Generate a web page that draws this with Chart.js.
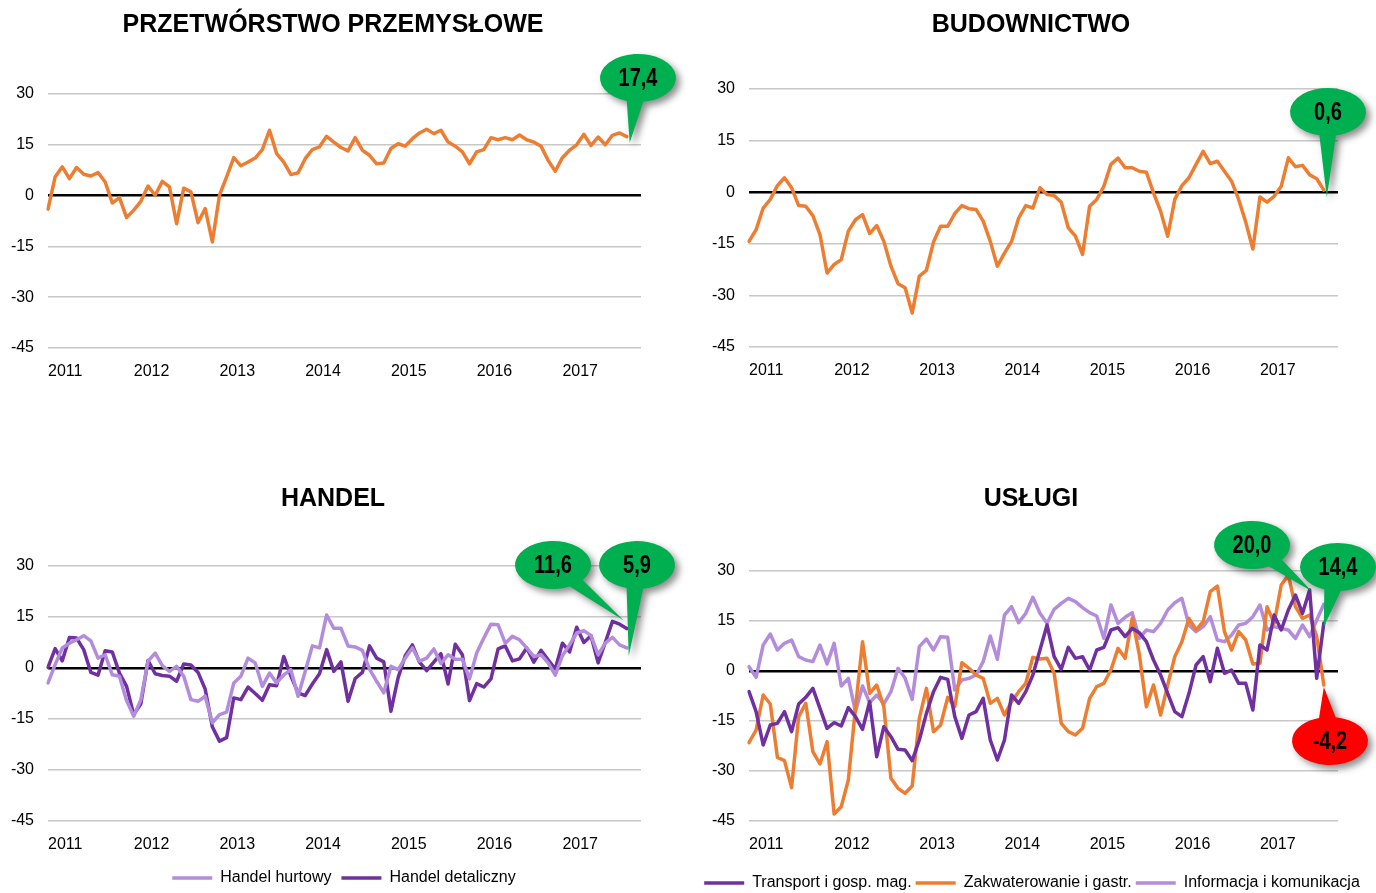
<!DOCTYPE html>
<html>
<head>
<meta charset="utf-8">
<title>Koniunktura</title>
<script src="https://cdn.jsdelivr.net/npm/chart.js@4.4.0/dist/chart.umd.min.js"></script>
<style>
  html, body { margin: 0; padding: 0; background: #fff; overflow: hidden; }
  #wrap { position: relative; width: 1376px; height: 893px; overflow: hidden; }
  canvas { position: absolute; }
</style>
</head>
<body>
<div id="wrap">
  <canvas id="c1" width="688" height="400" style="left:0;top:0"></canvas>
  <canvas id="c2" width="688" height="400" style="left:688px;top:0"></canvas>
  <canvas id="c3" width="688" height="426" style="left:0;top:470px"></canvas>
  <canvas id="c4" width="688" height="431" style="left:688px;top:470px"></canvas>
</div>
<script>
// axis runs Jan 2011 - Dec 2017, data ends Oct 2017
const years = ['2011', '2012', '2013', '2014', '2015', '2016', '2017'];
const months = ['01', '02', '03', '04', '05', '06', '07', '08', '09', '10', '11', '12'];
const labels = [];
years.forEach(y => months.forEach(m => labels.push(y + '-' + m)));

const yTicks = [-45, -30, -15, 0, 15, 30];

const przetworstwo = [
  -4.0, 5.5, 8.5, 5.0, 8.3, 6.3, 5.8, 6.8, 4.0, -2.2, -0.6, -6.5,
  -4.3, -1.7, 2.8, 0.1, 4.2, 2.6, -8.3, 2.2, 1.1, -8.0, -3.8, -13.7,
  0.1, 5.5, 11.2, 8.8, 9.9, 11.1, 13.6, 19.3, 12.4, 9.9, 6.2, 6.7,
  10.9, 13.6, 14.4, 17.5, 15.8, 14.2, 13.2, 17.1, 13.4, 11.9, 9.4, 9.6,
  13.9, 15.3, 14.6, 16.8, 18.5, 19.6, 18.3, 19.3, 15.8, 14.6, 12.9, 9.4,
  12.9, 13.6, 17.1, 16.5, 17.1, 16.5, 17.9, 16.5, 15.8, 14.6, 10.4, 7.2,
  11.2, 13.4, 15.0, 18.1, 14.8, 17.3, 15.0, 17.8, 18.5, 17.4
];

const budownictwo = [
  -14.3, -10.9, -4.6, -2.1, 1.9, 4.2, 1.3, -3.9, -4.1, -6.8, -12.3, -23.5,
  -21.0, -19.6, -11.3, -8.0, -6.5, -12.0, -9.7, -14.3, -21.5, -26.6, -27.8, -35.1,
  -24.4, -22.7, -14.5, -9.9, -9.9, -6.2, -3.9, -4.8, -5.0, -8.4, -14.3, -21.5,
  -17.7, -14.3, -7.5, -3.9, -4.6, 1.3, -0.7, -1.0, -2.9, -10.4, -12.8, -18.1,
  -4.1, -2.1, 1.7, 8.1, 9.9, 7.1, 7.1, 6.1, 5.8, -0.2, -5.5, -12.8,
  -2.1, 1.9, 4.2, 8.1, 11.9, 8.3, 9.0, 6.1, 3.2, -2.1, -8.7, -16.5,
  -1.4, -2.9, -1.2, 1.7, 10.0, 7.4, 7.8, 5.1, 3.9, 0.6
];

const handelHurtowy = [
  -4.4, 1.0, 5.9, 7.3, 8.3, 9.5, 8.0, 2.9, 3.9, -2.0, -2.4, -9.6,
  -14.2, -9.3, 2.0, 4.4, 0.7, -1.0, 0.5, -2.4, -9.3, -9.8, -8.3, -16.1,
  -13.7, -13.0, -4.4, -2.4, 2.9, 1.5, -5.4, -1.5, -4.4, -2.0, -0.5, -8.3,
  -1.0, 6.5, 5.9, 15.6, 11.7, 11.7, 6.5, 6.2, 5.2, -0.3, -3.9, -7.3,
  0.5, -0.5, 2.9, 5.9, 2.0, 2.9, 5.6, 1.3, 3.9, 2.6, 2.6, -3.2,
  4.4, 8.8, 12.9, 12.7, 7.3, 9.3, 8.3, 5.9, 3.4, 3.9, 1.5, -2.1,
  3.6, 6.8, 10.3, 11.0, 9.5, 3.9, 7.3, 9.0, 6.8, 5.9
];

const handelDetaliczny = [
  0.2, 5.7, 2.1, 9.0, 8.8, 5.4, -1.3, -2.1, 5.1, 4.7, -1.5, -5.4,
  -13.7, -10.5, 2.2, -1.7, -2.2, -2.4, -3.9, 1.2, 0.9, -1.3, -6.2, -17.3,
  -21.5, -20.5, -8.8, -9.3, -5.6, -7.5, -9.5, -4.9, -5.2, 3.4, -2.4, -7.3,
  -8.1, -4.7, -1.7, 5.4, -1.0, 1.8, -9.8, -3.1, -1.3, 6.5, 2.9, 1.8,
  -12.7, -2.9, 3.6, 6.8, 1.7, -0.8, 1.7, 4.2, -4.7, 7.0, 3.9, -9.6,
  -4.6, -5.6, -3.2, 5.6, 6.5, 2.1, 2.7, 5.9, 1.7, 5.2, 2.4, -0.3,
  7.3, 4.7, 12.0, 7.5, 9.5, 1.5, 7.5, 13.7, 12.9, 11.6
];

const transport = [
  -6.2, -12.2, -22.2, -16.2, -15.7, -12.2, -18.2, -9.9, -7.9, -5.2, -11.2, -17.2,
  -15.5, -16.5, -11.0, -13.7, -17.5, -9.2, -25.7, -16.7, -19.7, -23.5, -23.7, -26.9,
  -20.7, -12.7, -6.2, -1.9, -2.5, -13.7, -20.2, -13.2, -12.2, -8.2, -20.7, -26.7,
  -20.7, -7.2, -9.7, -6.2, -1.2, 6.3, 13.8, 4.3, 0.5, 7.1, 3.8, 4.3,
  0.3, 6.3, 7.1, 12.3, 13.0, 10.3, 12.8, 11.5, 8.8, 3.3, -1.2, -6.7,
  -12.2, -13.7, -6.7, 1.8, 4.3, -3.2, 6.8, -0.7, 0.3, -3.7, -3.7, -11.7,
  7.8, 6.3, 16.8, 12.3, 18.3, 22.8, 17.3, 24.3, -2.2, 14.4
];

const zakwaterowanie = [
  -21.5, -17.7, -7.2, -9.9, -25.9, -26.9, -35.0, -13.7, -9.7, -24.2, -27.9, -21.2,
  -42.9, -40.7, -32.7, -11.2, 8.8, -6.7, -4.2, -10.7, -32.2, -35.2, -36.7, -34.5,
  -14.2, -5.2, -18.2, -16.2, -7.9, -10.7, 2.5, 0.8, -1.2, -2.2, -9.7, -8.2,
  -13.2, -9.2, -6.2, -3.7, 4.1, 3.6, 3.8, -0.7, -15.7, -18.2, -19.2, -17.2,
  -8.2, -4.7, -3.7, 0.3, 6.8, 3.8, 15.8, 5.0, -10.7, -4.2, -13.2, -4.2,
  4.3, 8.8, 15.8, 12.3, 14.8, 23.8, 25.5, 11.8, 6.3, 11.8, 9.3, 2.1,
  2.3, 19.3, 14.3, 25.8, 28.8, 19.3, 15.8, 16.8, 10.3, -4.2
];

const informacja = [
  1.3, -1.9, 7.8, 11.1, 6.3, 8.3, 9.3, 4.3, 3.3, 2.8, 7.8, 2.1,
  8.3, -4.5, -2.2, -12.2, -4.5, -9.5, -7.2, -9.9, -6.2, 0.8, -2.2, -8.5,
  7.3, 9.6, 6.3, 10.3, 10.1, -5.7, -2.7, -2.2, -1.2, 2.8, 10.5, 3.5,
  16.8, 19.3, 14.5, 17.3, 22.1, 17.3, 14.3, 18.5, 20.3, 21.8, 20.8, 19.0,
  17.5, 16.5, 9.8, 19.8, 14.3, 16.1, 17.5, 9.8, 12.3, 11.8, 14.3, 18.3,
  20.5, 21.8, 13.8, 11.8, 13.3, 16.3, 9.3, 8.8, 10.8, 13.8, 14.3, 16.3,
  19.8, 12.3, 13.3, 12.8, 12.3, 9.8, 13.8, 10.3, 15.3, 20.0
];

const FONT = "'Liberation Sans', Arial, sans-serif";
const ORANGE = '#ED7D31';
const LILAC = '#B38DDB';
const PURPLE = '#7030A0';
const GREEN = '#00B050';
const RED = '#FF0000';

// titles and the oval callouts pointing at the last value of a series
const panelDecor = {
  id: 'panelDecor',
  afterDraw(chart, args, opts) {
    const ctx = chart.ctx;
    ctx.save();
    ctx.fillStyle = '#000';
    ctx.textAlign = 'center';
    ctx.textBaseline = 'middle';
    ctx.font = 'bold 25px ' + FONT;
    ctx.fillText(opts.title, opts.titleX, opts.titleY);

    (opts.callouts || []).forEach(c => {
      const pts = chart.getDatasetMeta(c.ds).data;
      const pt = pts[pts.length - 1];
      const tx = pt.x + c.dx, ty = pt.y + c.dy;
      const rx = 38, ry = 24;
      const ang = Math.atan2((ty - c.cy) / ry, (tx - c.cx) / rx);
      ctx.beginPath();
      ctx.ellipse(c.cx, c.cy, rx, ry, 0, ang + 0.22, ang - 0.22 + Math.PI * 2);
      ctx.lineTo(tx, ty);
      ctx.closePath();
      ctx.shadowColor = 'rgba(0,0,0,0.45)';
      ctx.shadowBlur = 7;
      ctx.shadowOffsetX = 4;
      ctx.shadowOffsetY = 4;
      ctx.fillStyle = c.color;
      ctx.fill();
      ctx.shadowColor = 'transparent';
      // the value text is tall and narrow in the original
      ctx.save();
      ctx.translate(c.cx, c.cy + 1);
      ctx.scale(1, 1.25);
      ctx.fillStyle = '#000';
      ctx.font = 'bold 20px ' + FONT;
      ctx.fillText(c.text, 0, 0);
      ctx.restore();
    });
    ctx.restore();
  }
};

function line(label, data, color) {
  return {
    label: label,
    data: data,
    borderColor: color,
    backgroundColor: color,
    borderWidth: 3.5,
    pointRadius: 0,
    tension: 0,
    fill: false,
    borderJoinStyle: 'round',
    borderCapStyle: 'round'
  };
}

function makeChart(id, datasets, cfg) {
  const ctx = document.getElementById(id).getContext('2d');
  return new Chart(ctx, {
    type: 'line',
    data: { labels: labels, datasets: datasets },
    options: {
      responsive: false,
      animation: false,
      layout: { padding: { top: cfg.padTop, right: 0, bottom: 0, left: 0 } },
      plugins: {
        tooltip: { enabled: false },
        title: { display: false },
        legend: {
          display: !!cfg.legend,
          position: 'bottom',
          labels: {
            usePointStyle: true,
            pointStyle: 'line',
            pointStyleWidth: 40,
            padding: cfg.legendPad || 10,
            color: '#000',
            font: { family: FONT, size: 16 }
          }
        },
        panelDecor: cfg.decor
      },
      scales: {
        x: {
          type: 'category',
          grid: { display: false },
          border: { display: false },
          afterFit(scale) { scale.height = cfg.xHeight; },
          ticks: {
            autoSkip: false,
            maxRotation: 0,
            minRotation: 0,
            align: 'start',
            padding: 6,
            color: '#000',
            font: { family: FONT, size: 16 },
            callback: function (val) {
              const lab = this.getLabelForValue(val);
              return lab.endsWith('-01') ? lab.slice(0, 4) : '';
            }
          }
        },
        y: {
          min: yTicks[0],
          max: yTicks[yTicks.length - 1],
          afterFit(scale) { scale.width = cfg.yWidth; },
          border: { display: false },
          grid: {
            drawTicks: false,
            color: c => (c.tick && c.tick.value === 0) ? '#000' : '#C8C8C8',
            lineWidth: c => (c.tick && c.tick.value === 0) ? 2.5 : 1.5
          },
          ticks: {
            stepSize: 15,
            padding: 14,
            color: '#000',
            font: { family: FONT, size: 16 }
          }
        },
        yr: {
          position: 'right',
          grid: { display: false },
          border: { display: false },
          ticks: { display: false },
          afterFit(scale) { scale.width = cfg.padRight; }
        }
      }
    },
    plugins: [panelDecor]
  });
}

makeChart('c1', [line('Przetwórstwo przemysłowe', przetworstwo, ORANGE)], {
  padTop: 94, padRight: 47, yWidth: 48, xHeight: 52,
  decor: {
    title: 'PRZETWÓRSTWO PRZEMYSŁOWE', titleX: 333, titleY: 25,
    callouts: [{ ds: 0, text: '17,4', color: GREEN, cx: 638, cy: 78, dx: 3, dy: 6 }]
  }
});

makeChart('c2', [line('Budownictwo', budownictwo, ORANGE)], {
  padTop: 89, padRight: 38, yWidth: 61, xHeight: 53,
  decor: {
    title: 'BUDOWNICTWO', titleX: 343, titleY: 25,
    callouts: [{ ds: 0, text: '0,6', color: GREEN, cx: 640, cy: 112, dx: 3, dy: 7 }]
  }
});

makeChart('c3', [
  line('Handel hurtowy', handelHurtowy, LILAC),
  line('Handel detaliczny', handelDetaliczny, PURPLE)
], {
  padTop: 96, padRight: 47, yWidth: 48, xHeight: 39, legend: true, legendPad: 10,
  decor: {
    title: 'HANDEL', titleX: 333, titleY: 29,
    callouts: [
      { ds: 1, text: '11,6', color: GREEN, cx: 553, cy: 95, dx: -3, dy: -8 },
      { ds: 0, text: '5,9', color: GREEN, cx: 637, cy: 95, dx: 2, dy: 8 }
    ]
  }
});

makeChart('c4', [
  line('Transport i gosp. mag.', transport, PURPLE),
  line('Zakwaterowanie i gastr.', zakwaterowanie, ORANGE),
  line('Informacja i komunikacja', informacja, LILAC)
], {
  padTop: 101, padRight: 38, yWidth: 61, xHeight: 50, legend: true, legendPad: 4,
  decor: {
    title: 'USŁUGI', titleX: 343, titleY: 29,
    callouts: [
      { ds: 2, text: '20,0', color: GREEN, cx: 564, cy: 75, dx: -12, dy: -13 },
      { ds: 0, text: '14,4', color: GREEN, cx: 650, cy: 97, dx: 0, dy: 4 },
      { ds: 1, text: '-4,2', color: RED, cx: 642, cy: 271, dx: 0, dy: 2 }
    ]
  }
});
</script>
</body>
</html>
